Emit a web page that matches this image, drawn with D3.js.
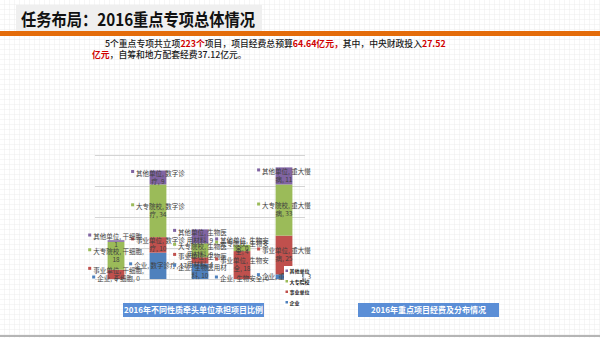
<!DOCTYPE html>
<html><head><meta charset="utf-8">
<script src="https://cdn.jsdelivr.net/npm/d3@7/dist/d3.min.js"></script>
<style>
html,body{margin:0;padding:0;background:#fff;}
svg{display:block;font-family:"Noto Sans CJK SC","Noto Sans",sans-serif;}
</style></head>
<body>
<svg id="c" width="600" height="338"></svg>
<script>
// ---- data ----
const categories = ["干细胞", "数字诊疗", "生物医用材料", "生物安全", "重大慢病"];
const seriesNames = ["企业", "事业单位", "大专院校", "其他单位"];
const qiye      = [0, 17, 10, 0, 3];
const shiye     = [6, 10, 4, 18, 25];
const dazhuan   = [18, 34, 9, 4, 33];
const qita      = [1, 9, 9, 0, 11];
const yTicks    = [0, 20, 40, 60, 80];
const legendOrder = ["其他单位", "大专院校", "事业单位", "企业"];
const titleText = "任务布局：2016重点专项总体情况";
const caption1 = "2016年不同性质牵头单位承担项目比例";
const caption2 = "2016年重点项目经费及分布情况";

const seriesValues = {"企业": qiye, "事业单位": shiye, "大专院校": dazhuan, "其他单位": qita};
const colors = {"企业": "#4f81bd", "事业单位": "#c0504d", "大专院校": "#9bbb59", "其他单位": "#8064a2"};

const svg = d3.select("#c");
const defs = svg.append("defs");
const pat = defs.append("pattern").attr("id","grid").attr("width",5).attr("height",5)
  .attr("patternUnits","userSpaceOnUse");
pat.append("path").attr("d","M5 0 V5 M0 5 H5").attr("stroke","#ececec").attr("stroke-width",1).attr("fill","none");
svg.append("rect").attr("width",600).attr("height",338).attr("fill","#fff");
svg.append("rect").attr("width",600).attr("height",338).attr("fill","url(#grid)");

// title
svg.append("rect").attr("x",16).attr("y",5).attr("width",246).attr("height",26).attr("fill","#efefef");
svg.append("text").attr("x",21).attr("y",26).attr("font-size",17).attr("font-weight","bold")
  .attr("textLength",234).attr("lengthAdjust","spacingAndGlyphs")
  .attr("fill","#111").text(titleText);
svg.append("rect").attr("x",0).attr("y",31).attr("width",600).attr("height",5).attr("fill","#e46c0a");

// paragraph
const para = [
  {x:105, y:47, parts:[["5个重点专项共立项",0],["223个",1],["项目，项目经费总预算",0],["64.64亿元，",1],["其中，中央财政投入",0],["27.52",1]]},
  {x:92, y:58, parts:[["亿元",1],["，自筹和地方配套经费37.12亿元。",0]]}
];
para.forEach(l=>{
  const t = svg.append("text").attr("x",l.x).attr("y",l.y).attr("font-size",8.8);
  l.parts.forEach(p=>{
    t.append("tspan").attr("fill",p[1]?"#d00000":"#1a1a1a").attr("font-weight",p[1]?"bold":"500").text(p[0]);
  });
});

// chart
const x = d3.scaleBand().domain(categories).range([95,305]).paddingInner(0.6).paddingOuter(0.3);
const y = d3.scaleLinear().domain([0,80]).range([279,155]);

const gAxis = svg.append("g").attr("transform","translate(95,0)")
  .call(d3.axisLeft(y).tickValues(yTicks).tickSize(-210).tickFormat(""));
gAxis.select(".domain").remove();
gAxis.selectAll(".tick line").attr("stroke","#d4d4d4").attr("stroke-width",1);

const tableRows = categories.map((c,i)=>{
  const r = {cat:c};
  seriesNames.forEach(s=>r[s]=seriesValues[s][i]);
  return r;
});
const stacked = d3.stack().keys(seriesNames)(tableRows);

svg.append("g").selectAll("g").data(stacked).join("g").attr("fill",d=>colors[d.key])
  .selectAll("rect").data(d=>d).join("rect")
  .attr("x",d=>x(d.data.cat)).attr("width",x.bandwidth())
  .attr("y",d=>y(d[1])).attr("height",d=>y(d[0])-y(d[1]));

// data labels
const fs = 6.5, maxW = 53, lh = 8;
const meas = svg.append("text").attr("font-size",fs).attr("visibility","hidden");
function w(s){ meas.text(s); return meas.node().getComputedTextLength(); }
function tokens(s){
  const out=[]; let buf="";
  for(const ch of s){
    if(/[\u3400-\u9fff]/.test(ch)){ if(buf){out.push(buf);buf="";} out.push(ch); }
    else if(ch===" "){ if(buf){out.push(buf);buf="";} out.push(" "); }
    else buf+=ch;
  }
  if(buf) out.push(buf);
  return out;
}
function wrap(s){
  const tk=tokens(s); const lines=[]; let cur="";
  tk.forEach(t=>{
    if(cur && w(cur+t)>maxW && t!==" "){ lines.push(cur.trim()); cur=t; }
    else cur+=t;
  });
  if(cur.trim()) lines.push(cur.trim());
  return lines;
}
const lab = svg.append("g");
stacked.forEach(layer=>{
  layer.forEach(d=>{
    const s = layer.key + ", " + d.data.cat + ", " + d.data[layer.key];
    const lines = wrap(s);
    const cx = x(d.data.cat)+x.bandwidth()/2;
    const cy = (y(d[0])+y(d[1]))/2;
    const top = cy - (lines.length-1)*lh/2;
    lines.forEach((ln,i)=>{
      const lw = w(ln);
      const extra = i===0 ? 5 : 0;
      const x0 = cx - (lw+extra)/2 + extra;
      if(i===0){
        lab.append("rect").attr("x",x0-5).attr("y",top-3.5).attr("width",3).attr("height",3).attr("fill",colors[layer.key]);
      }
      lab.append("text").attr("x",x0).attr("y",top+i*lh+2.3).attr("font-size",fs).attr("fill","#404040").text(ln);
    });
  });
});
meas.remove();

// legend
const lg = svg.append("g");
lg.append("rect").attr("x",284).attr("y",266).attr("width",18).attr("height",41).attr("fill","#fff");
const ly = d3.scalePoint().domain(legendOrder).range([271,302.5]);
legendOrder.forEach(k=>{
  lg.append("rect").attr("x",285.5).attr("y",ly(k)-1.5).attr("width",2.5).attr("height",2.5).attr("fill",colors[k]);
  lg.append("text").attr("x",289.5).attr("y",ly(k)+2).attr("font-size",5).attr("font-weight","bold").attr("fill","#222").text(k);
});

// captions
[[123,caption1],[358,caption2]].forEach(([bx,t])=>{
  svg.append("rect").attr("x",bx).attr("y",303).attr("width",141).attr("height",14).attr("fill","#5b8ed6");
  svg.append("text").attr("x",bx+70.5).attr("y",313).attr("text-anchor","middle").attr("font-size",8)
    .attr("font-weight","bold").attr("fill","#fff").text(t);
});

svg.append("rect").attr("x",0).attr("y",335).attr("width",600).attr("height",2).attr("fill","#b5b5b5");
</script>
</body></html>
